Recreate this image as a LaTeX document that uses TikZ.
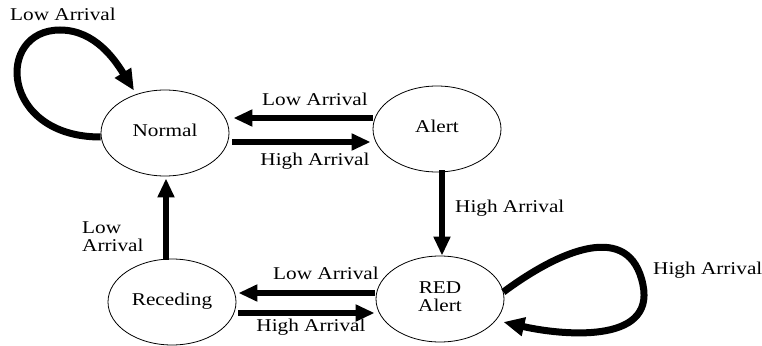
\documentclass[tikz,border=0pt]{standalone}
\usepackage{fontspec}
\setmainfont{Liberation Serif}
\usepackage{graphicx}
\usetikzlibrary{arrows.meta,shapes.geometric}
\newcommand\lblc[1]{\scalebox{1.18}[1]{\begin{tabular}{@{}c@{}}#1\end{tabular}}}
\newcommand\lbll[1]{\scalebox{1.18}[1]{\begin{tabular}{@{}l@{}}#1\end{tabular}}}
\tikzset{
  state/.style={draw, ellipse, line width=0.8pt, minimum width=128pt, minimum height=86pt, inner sep=0pt},
  txt/.style={font=\fontsize{18}{18}\selectfont, inner sep=0pt},
  arr/.style={line width=5.5pt, -{Triangle[length=19pt,width=16pt]}},
  looparr/.style={line width=7pt, -{Triangle[length=21pt,width=18pt]}},
}
\begin{document}
\begin{tikzpicture}[x=1pt,y=-1pt]
\useasboundingbox (0,0) rectangle (762,345);
\node[state,txt] (Normal) at (165,133) {\lblc{Normal}};
\node[state,txt] (Alert) at (437,129) {\lblc{Alert}};
\node[state,txt] (RED) at (440,299) {\lblc{RED\\Alert}};
\node[state,txt] (Receding) at (172,302) {\lblc{Receding}};

% horizontal top
\draw[arr] ([yshift=11pt]Alert.west) -- ([xshift=4pt,yshift=15pt]Normal.east);
\draw[arr] ([xshift=3pt,yshift=-9pt]Normal.east) -- ([xshift=-2pt,yshift=-13pt]Alert.west);
% vertical right
\draw[arr] ([xshift=5pt,yshift=2pt]Alert.south) -- ([xshift=2pt]RED.north);
% horizontal bottom
\draw[arr] ([xshift=-1pt,yshift=6pt]RED.west) -- ([xshift=2pt,yshift=9pt]Receding.east);
\draw[arr] ([xshift=2pt,yshift=-11pt]Receding.east) -- ([xshift=-1pt,yshift=-14pt]RED.west);
% vertical left
\draw[arr] ([xshift=-6pt,yshift=-1pt]Receding.north) -- ([xshift=1pt,yshift=-2pt]Normal.south);

% self loops
\coordinate (n1) at ([yshift=-4pt]Normal.west);
\coordinate (n2) at ([xshift=-31pt,yshift=-1pt]Normal.north);
\draw[looparr] (n1) .. controls (0,137) and (-5,30) .. (60,30) .. controls (95,30) and (115,60) .. (n2);
\coordinate (r1) at ([xshift=-1pt,yshift=7pt]RED.east);
\coordinate (r2) at ([xshift=-1pt,yshift=-23pt]RED.east);
\draw[looparr] (r1) .. controls (560,250) and (630,220) .. (643,285) .. controls (655,345) and (560,335) .. (r2);

% labels
\node[txt] (l1) at (63,17) {\lblc{Low Arrival}};
\node[txt] (l2) at (315,102) {\lblc{Low Arrival}};
\node[txt] (l3) at (315,162) {\lblc{High Arrival}};
\node[txt,anchor=west] (l4) at (455,209) {\lblc{High Arrival}};
\node[txt] (l5) at (326,276) {\lblc{Low Arrival}};
\node[txt] (l6) at (311,328) {\lblc{High Arrival}};
\node[txt,anchor=west] (l7) at (82,239) {\lbll{Low\\Arrival}};
\node[txt,anchor=west] (l8) at (653,271) {\lblc{High Arrival}};
\end{tikzpicture}
\end{document}
